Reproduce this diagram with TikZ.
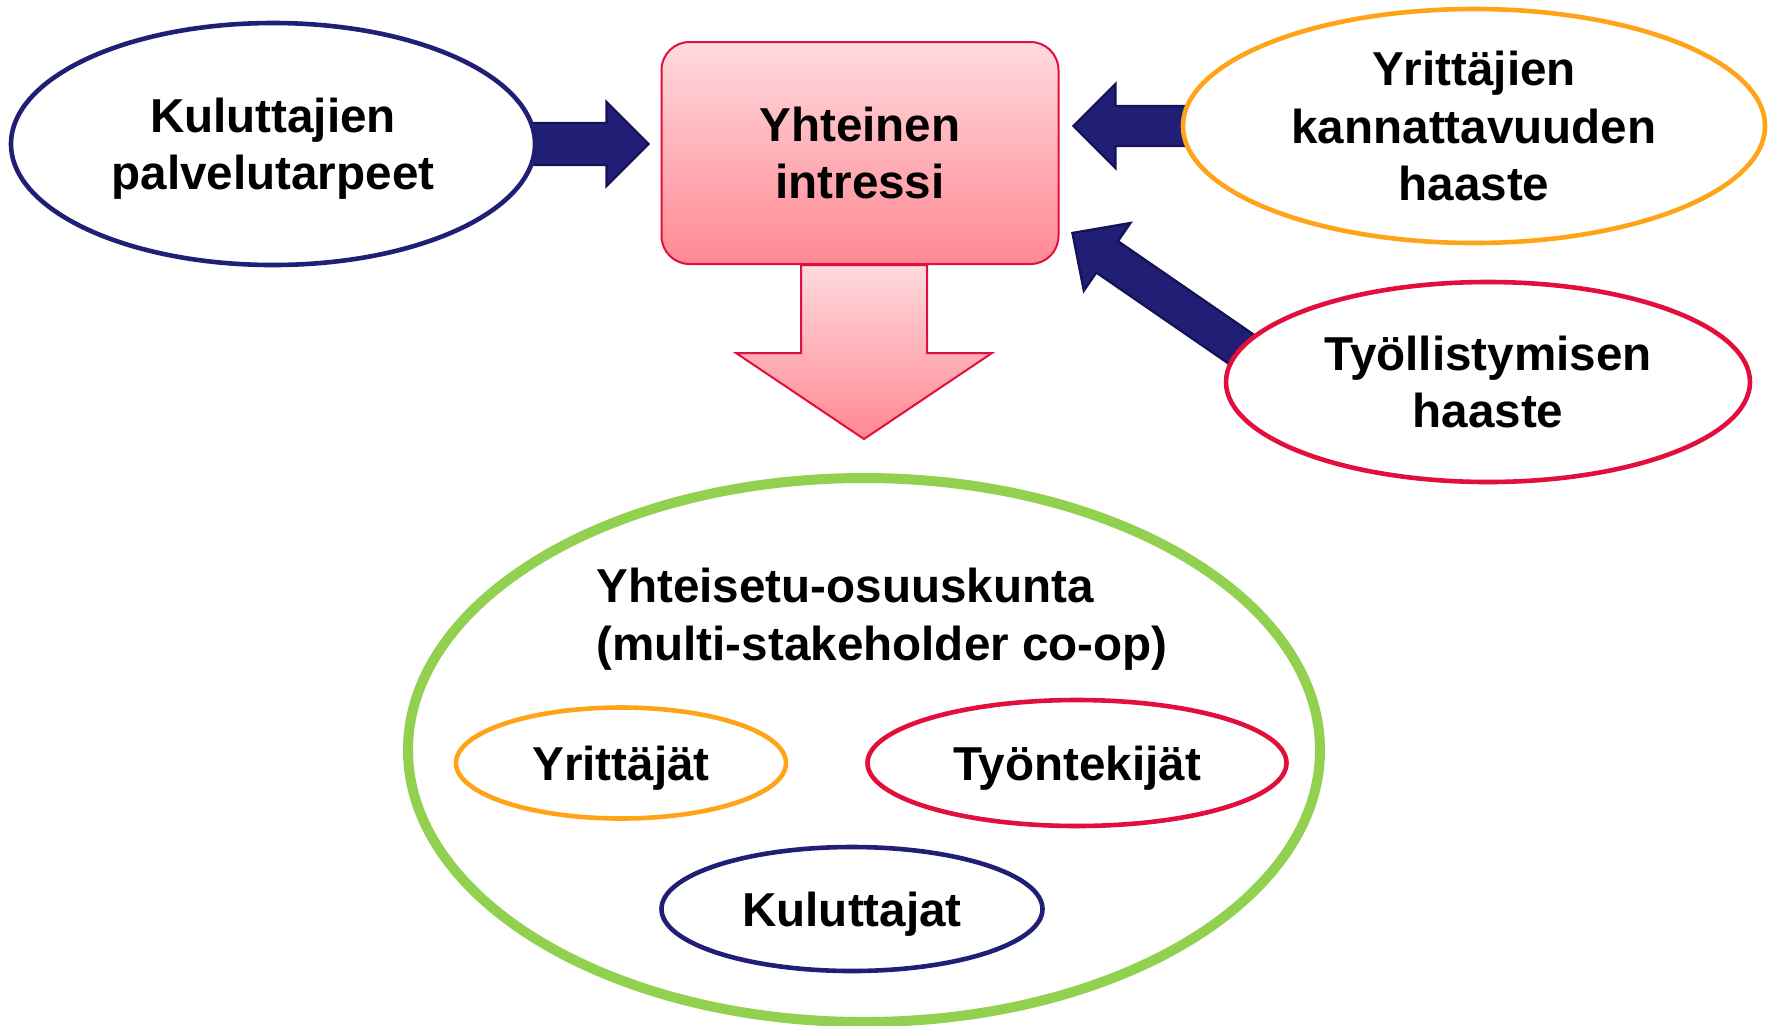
\documentclass[tikz,border=0pt]{standalone}
\usepackage{fontspec}
\setmainfont{Liberation Sans}
\usetikzlibrary{shapes.geometric,calc,backgrounds}
\definecolor{navy}{RGB}{33,31,117}
\definecolor{navyd}{RGB}{20,19,88}
\definecolor{orng}{RGB}{255,164,24}
\definecolor{crim}{RGB}{226,14,60}
\definecolor{grn}{RGB}{146,208,80}
\definecolor{pinktop}{RGB}{255,218,222}
\definecolor{pinkbot}{RGB}{255,136,146}
\newcommand{\blockarrow}[5]{%
  \coordinate (ba-H) at ($(#2)!#5!(#1)$);
  \filldraw[navyarrow] ($(#1)!#3!90:(#2)$) -- ($(ba-H)!#3!-90:(#1)$) -- ($(ba-H)!#4!-90:(#1)$) -- (#2) -- ($(ba-H)!#4!90:(#1)$) -- ($(ba-H)!#3!90:(#1)$) -- ($(#1)!#3!-90:(#2)$) -- cycle;}
\tikzset{
  txt/.style={font=\fontsize{23.8}{28.6}\selectfont\bfseries, align=center, text=black},
  oval/.style={ellipse, txt, fill=white, inner sep=0pt, line width=2.3pt},
  flat/.style={text depth=0pt},
  navyarrow/.style={fill=navy, draw=navyd, line width=1.2pt, line join=miter},
  pinkbox/.style={rectangle, rounded corners=14pt, top color=pinktop, bottom color=pinkbot, draw=crim, line width=1pt, txt, inner sep=0pt},
}
\begin{document}
\begin{tikzpicture}[x=0.5pt, y=-0.5pt]
\useasboundingbox (0,0) rectangle (1769,1025);

\node[pinkbox, minimum width=198.5pt, minimum height=111pt] (box) at (860,153) {Yhteinen\\intressi};

\node[oval, flat, draw=navy, minimum width=262pt, minimum height=121pt] (kul) at (273,144) {Kuluttajien\\palvelutarpeet};
\node[oval, draw=orng, minimum width=291pt, minimum height=117pt] (yrit) at (1474,126) {Yrittäjien\\kannattavuuden\\haaste};
\node[oval, draw=crim, minimum width=262pt, minimum height=100pt] (tyo) at (1488,382) {Työllistymisen\\haaste};

\node[oval, draw=grn, line width=5pt, minimum width=456pt, minimum height=272pt] (coop) at (864,750) {};
\node[txt, align=left, anchor=base west, inner sep=0pt] (cooptxt) at (596,660) {Yhteisetu-osuuskunta\\(multi-stakeholder co-op)};
\node[oval, flat, draw=orng, minimum width=165pt, minimum height=55.5pt] (yr2) at (621,763) {Yrittäjät};
\node[oval, flat, draw=crim, minimum width=209.5pt, minimum height=63pt] (tt) at (1077,763) {Työntekijät};
\node[oval, flat, draw=navy, minimum width=190.5pt, minimum height=62pt] (ku2) at (852,909) {Kuluttajat};

\coordinate (kultip) at ($(kul.center -| box.west)+(-12,0)$);
\coordinate (yrtip) at ($(yrit.center -| box.east)+(14,0)$);
\coordinate (tytip) at ($(box.south east)+(13,-32)$);
\coordinate (tytail) at ($(tytip)+(231,159)$);
\coordinate (dtop) at ($(box.south)+(4,0)$);

\begin{scope}[on background layer]
  \fill[white] (0,0) rectangle (1769,1025);
  \blockarrow{kul.center}{kultip}{10.5pt}{21pt}{21pt}
  \blockarrow{yrit.center}{yrtip}{10pt}{21pt}{21pt}
  \blockarrow{tytail}{tytip}{9.5pt}{20.5pt}{21pt}
  \shadedraw[top color=pinktop, bottom color=pinkbot, draw=crim, line width=1pt, line join=miter]
    ($(dtop)+(-63,0)$) -- ++(0,88) -- ++(-65,0) -- ($(dtop)+(0,174)$)
    -- ($(dtop)+(128,88)$) -- ++(-65,0) -- ++(0,-88) -- cycle;
\end{scope}
\end{tikzpicture}
\end{document}
